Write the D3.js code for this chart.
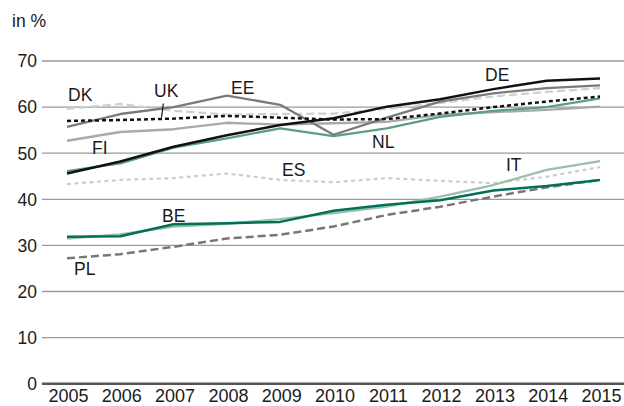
<!DOCTYPE html>
<html>
<head>
<meta charset="utf-8">
<script src="https://cdn.jsdelivr.net/npm/d3@7"></script>
<style>
  body { margin: 0; background: #fff; }
  text { font-family: "Liberation Sans", Arial, sans-serif; fill: #1a1a1a; }
</style>
</head>
<body>
<svg id="chart" width="624" height="406"></svg>
<script>
// Data
var years = [2005, 2006, 2007, 2008, 2009, 2010, 2011, 2012, 2013, 2014, 2015];
var yTicks = [0, 10, 20, 30, 40, 50, 60, 70];

var DE = [45.6, 48.2, 51.4, 53.9, 56.1, 57.6, 60.1, 61.7, 63.9, 65.7, 66.2];
var UK = [57.0, 57.2, 57.5, 58.1, 57.7, 57.3, 57.4, 58.6, 60.0, 61.2, 62.3];
var EE = [55.7, 58.5, 60.0, 62.5, 60.5, 54.0, 57.7, 61.2, 63.0, 64.1, 64.7];
var DK = [59.6, 60.7, 59.2, 58.4, 58.5, 58.6, 59.6, 60.9, 62.3, 63.3, 64.1];
var FI = [52.7, 54.6, 55.2, 56.6, 56.2, 56.5, 56.8, 58.3, 58.9, 59.4, 60.1];
var NL = [46.1, 47.8, 51.2, 53.2, 55.4, 53.7, 55.4, 57.9, 59.2, 60.0, 61.9];
var ES = [43.3, 44.2, 44.6, 45.6, 44.2, 43.7, 44.6, 44.0, 43.5, 44.9, 47.0];
var IT = [31.5, 32.4, 34.1, 34.7, 35.7, 37.0, 38.4, 40.6, 43.1, 46.4, 48.3];
var BE = [31.9, 32.0, 34.6, 34.8, 35.1, 37.5, 38.8, 39.8, 41.9, 42.9, 44.2];
var PL = [27.2, 28.1, 29.7, 31.5, 32.3, 34.1, 36.6, 38.4, 40.6, 42.6, 44.2];

// drawing order (bottom to top) and styles
var series = [
  { name: "ES", values: ES, color: "#cdcdcd", width: 2.2, dash: "4,3.5" },
  { name: "DK", values: DK, color: "#c5d6cb", width: 2.2, dash: "8,4" },
  { name: "FI", values: FI, color: "#a9a9a9", width: 2.3, dash: null },
  { name: "IT", values: IT, color: "#9cbfad", width: 2.3, dash: null },
  { name: "PL", values: PL, color: "#777777", width: 2.5, dash: "8,4" },
  { name: "EE", values: EE, color: "#7a7a7a", width: 2.3, dash: null },
  { name: "NL", values: NL, color: "#5d9c87", width: 2.3, dash: null },
  { name: "BE", values: BE, color: "#00705a", width: 2.5, dash: null },
  { name: "UK", values: UK, color: "#111111", width: 2.5, dash: "4,3" },
  { name: "DE", values: DE, color: "#111111", width: 2.5, dash: null }
];

var labels = [
  { text: "DK", x: 68, y: 101 },
  { text: "UK", x: 154, y: 97 },
  { text: "EE", x: 231, y: 94 },
  { text: "FI", x: 92, y: 154 },
  { text: "ES", x: 282, y: 176 },
  { text: "NL", x: 372, y: 148 },
  { text: "DE", x: 485, y: 81 },
  { text: "IT", x: 506, y: 171 },
  { text: "BE", x: 162, y: 222 },
  { text: "PL", x: 74, y: 275 }
];

var svg = d3.select("#chart");

var x = d3.scaleLinear().domain([2005, 2015]).range([67, 600]);
var y = d3.scaleLinear().domain([0, 70]).range([383.7, 61]);

// gridlines
svg.append("g")
  .selectAll("line")
  .data(yTicks.filter(d => d > 0))
  .join("line")
  .attr("x1", 42).attr("x2", 624)
  .attr("y1", d => y(d)).attr("y2", d => y(d))
  .attr("stroke", "#9a9a9a")
  .attr("stroke-width", 1.3);

// y tick labels
svg.append("g")
  .selectAll("text")
  .data(yTicks)
  .join("text")
  .attr("x", 37)
  .attr("y", d => y(d))
  .attr("dy", "0.36em")
  .attr("text-anchor", "end")
  .style("font-size", "17.5px")
  .text(d => d);

// x axis baseline
svg.append("line")
  .attr("x1", 42).attr("x2", 624)
  .attr("y1", y(0)).attr("y2", y(0))
  .attr("stroke", "#555")
  .attr("stroke-width", 2.5);

// year labels
svg.append("g")
  .selectAll("text")
  .data(years)
  .join("text")
  .attr("x", d => x(d) + 1.5)
  .attr("y", 402)
  .attr("text-anchor", "middle")
  .style("font-size", "18px")
  .text(d => d);

// unit label
svg.append("text")
  .attr("x", 12).attr("y", 26.5)
  .style("font-size", "17.5px")
  .text("in %");

// lines
var line = d3.line()
  .x((d, i) => x(years[i]))
  .y(d => y(d));

svg.append("g")
  .selectAll("path")
  .data(series)
  .join("path")
  .attr("d", d => line(d.values))
  .attr("fill", "none")
  .attr("stroke", d => d.color)
  .attr("stroke-width", d => d.width)
  .attr("stroke-dasharray", d => d.dash)
  .attr("stroke-linejoin", "round");

// leader line for UK
svg.append("line")
  .attr("x1", 163.3).attr("y1", 103.5)
  .attr("x2", 161.5).attr("y2", 117.5)
  .attr("stroke", "#111")
  .attr("stroke-width", 1.2);

// series labels
svg.append("g")
  .selectAll("text")
  .data(labels)
  .join("text")
  .attr("x", d => d.x)
  .attr("y", d => d.y)
  .style("font-size", "17.5px")
  .text(d => d.text);
</script>
</body>
</html>
